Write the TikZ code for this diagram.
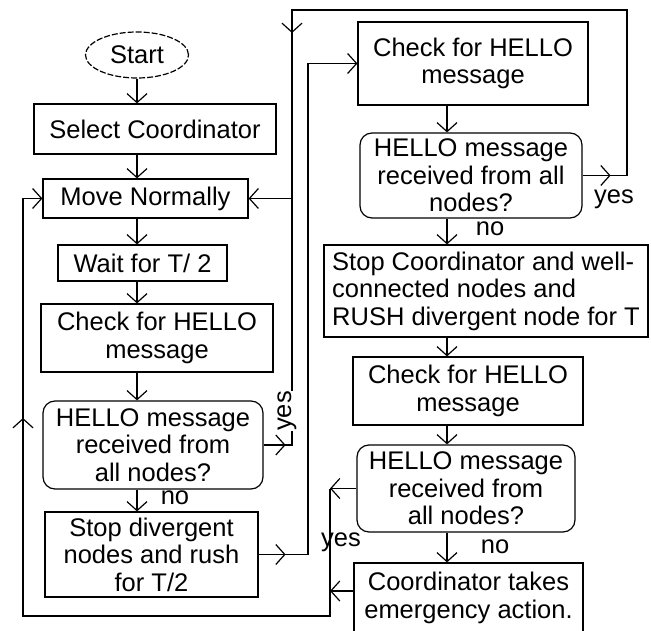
\documentclass[tikz,border=0pt]{standalone}
\usepackage{fontspec}
\setmainfont{Liberation Sans}
\usetikzlibrary{shapes.geometric}
\usetikzlibrary{arrows.meta}

\begin{document}
\begin{tikzpicture}[x=1pt,y=-1pt,line width=1.2pt,
  font=\fontsize{25.5}{27.5}\selectfont,
  box/.style={draw,rectangle,inner sep=0pt,align=center},
  query/.style={box,rounded corners=12pt},
  flow/.style={-{Straight Barb[length=9pt,width=20pt]}},
  lbl/.style={inner sep=0pt}]
\useasboundingbox (0,0) rectangle (651,631);

% left column
\node[draw,ellipse,dash pattern=on 6pt off 2pt,minimum width=103,minimum height=46,inner sep=0pt] (start) at (137,55) {Start};
\node[box,minimum width=242,minimum height=50] (select) at (155,129) {Select Coordinator};
\node[box,minimum width=205,minimum height=39] (move) at (145.5,198.5) {Move Normally};
\node[box,minimum width=169,minimum height=36] (wait) at (142.5,263) {Wait for T/ 2};
\node[box,minimum width=232,minimum height=68] (check1) at (157,338) {Check for HELLO\\message};
\node[query,minimum width=220,minimum height=88] (dec1) at (153,445) {HELLO message\\received from\\all nodes?};
\node[box,minimum width=213,minimum height=85] (stop1) at (151.5,554.5) {Stop divergent\\nodes and rush\\for T/2};

% right column
\node[box,minimum width=230,minimum height=83] (check2) at (473,63.5) {Check for HELLO\\message};
\node[query,minimum width=222,minimum height=85] (dec2) at (471,175.5) {HELLO message\\received from all\\nodes?};
\node[box,align=left,minimum width=324,minimum height=92] (stop2) at (486,291) {Stop Coordinator and well-\\connected nodes and\\RUSH divergent node for T};
\node[box,minimum width=230,minimum height=68] (check3) at (468,391) {Check for HELLO\\message};
\node[query,minimum width=218,minimum height=87] (dec3) at (466,488.5) {HELLO message\\received from\\all nodes?};
\node[box,minimum width=229,minimum height=70] (emerg) at (468.5,598) {Coordinator takes\\emergency action.};

% straight flow
\draw[flow] (start.south) -- (start.south |- select.north);
\draw[flow] (start.south |- select.south) -- (start.south |- move.north);
\draw[flow] (start.south |- move.south) -- (start.south |- wait.north);
\draw[flow] (start.south |- wait.south) -- (start.south |- check1.north);
\draw[flow] (start.south |- check1.south) -- (start.south |- dec1.north);
\draw[flow] (start.south |- dec1.south) -- (start.south |- stop1.north);

\coordinate (rcol) at (447,0);
\draw[flow] (rcol |- check2.south) -- (rcol |- dec2.north);
\draw[flow] (rcol |- dec2.south) -- (rcol |- stop2.north);
\draw[flow] (rcol |- stop2.south) -- (rcol |- check3.north);
\draw[flow] (rcol |- check3.south) -- (rcol |- dec3.north);
\draw[flow] (rcol |- dec3.south) -- (rcol |- emerg.north);

\node[lbl] (no1) at (175,498) {no};
\node[lbl] (no2) at (490,229) {no};
\node[lbl] (no3) at (495,547) {no};

% yes loops back to Move Normally
\coordinate (railA) at (292,445);
\coordinate (topA) at (292,10);
\coordinate (topB) at (627,10);
\draw (dec1.east) -- (railA) -- (topA) -- (topB) -- (topB |- dec2.east) -- (dec2.east);
\draw[flow] (dec1.east) -- ++(22,0);
\draw[flow] (dec2.east) -- ++(28,0);
\draw[flow] (topA) -- ++(0,23);
\draw[flow] (move.east -| railA) -- (move.east);
\node[lbl,fill=white,rotate=90] (yes1) at (287,411) {yes};
\node[lbl] (yes2) at (614,199) {yes};

% rush branch
\coordinate (railB) at (308,554.5);
\draw (stop1.east) -- (railB) -- (railB |- check2.west);
\draw[flow] (railB |- check2.west) -- (check2.west);
\draw[flow] (stop1.east) -- ++(27,0);

% last test and emergency back to Move Normally
\coordinate (railC) at (330,616);
\coordinate (railD) at (23,616);
\draw[flow] (dec3.west) -- (dec3.west -| railC);
\draw[flow] ([yshift=7pt]emerg.west) -- ([yshift=7pt]emerg.west -| railC);
\draw (dec3.west -| railC) -- (railC) -- (railD) -- (railD |- move.west);
\draw[flow] (railD |- move.west) -- (move.west);
\draw[flow] (railD) -- ++(0,-198);
\node[lbl] (yes3) at (341,542) {yes};

\end{tikzpicture}
\end{document}
